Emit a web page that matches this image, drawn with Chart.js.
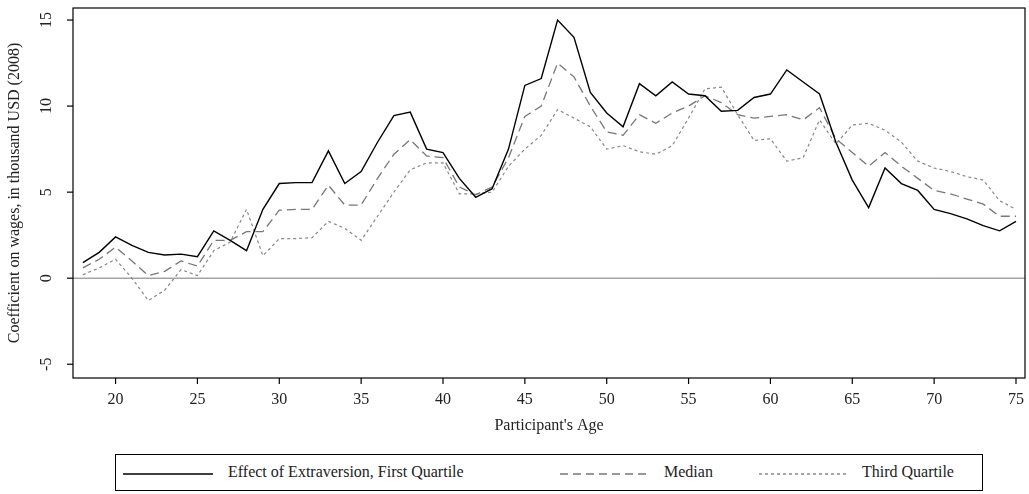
<!DOCTYPE html>
<html>
<head>
<meta charset="utf-8">
<script src="https://cdn.jsdelivr.net/npm/chart.js@4"></script>
<style>
  body { margin: 0; background: #fff; font-family: "Liberation Serif", serif; }
  #wrap { position: relative; width: 1029px; height: 452px; }
  #legend { position: absolute; left: 115px; top: 454px; width: 868px; height: 37px; border: 1px solid #000; box-sizing: border-box; font-size: 16px; color: #222; }
  #legend svg { position: absolute; top: 17px; }
  #legend span { position: absolute; top: 8px; }
</style>
</head>
<body>
<div id="wrap"><canvas id="grafico" width="1029" height="452"></canvas></div>
<div id="legend">
  <svg style="left:7px" width="90" height="4"><line x1="0" y1="2" x2="90" y2="2" stroke="#000" stroke-width="1.3"/></svg>
  <span style="left:112px">Effect of Extraversion, First Quartile</span>
  <svg style="left:444px" width="90" height="4"><line x1="0" y1="2" x2="90" y2="2" stroke="#777" stroke-width="1.3" stroke-dasharray="8,5"/></svg>
  <span style="left:548px">Median</span>
  <svg style="left:643px" width="90" height="4"><line x1="0" y1="2" x2="90" y2="2" stroke="#888" stroke-width="1.3" stroke-dasharray="3,3"/></svg>
  <span style="left:746px">Third Quartile</span>
</div>
<script>
const idades = [];
for (let a = 18; a <= 75; a++) idades.push(a);

const primeiroQuartil = [0.9,1.5,2.4,1.9,1.5,1.35,1.4,1.25,2.75,2.2,1.6,4.0,5.5,5.55,5.55,7.4,5.5,6.2,7.9,9.45,9.65,7.5,7.3,5.8,4.7,5.2,7.5,11.2,11.6,15.0,14.0,10.8,9.6,8.8,11.3,10.6,11.4,10.7,10.6,9.7,9.75,10.5,10.7,12.1,11.4,10.7,7.9,5.7,4.1,6.4,5.5,5.1,4.0,3.75,3.45,3.05,2.75,3.3];
const mediana = [0.6,1.1,1.8,1.0,0.15,0.4,1.0,0.7,2.2,2.2,2.7,2.7,3.95,4.0,4.0,5.4,4.25,4.25,5.8,7.2,8.05,7.1,7.0,5.3,4.85,5.3,7.0,9.4,10.0,12.5,11.7,10.0,8.5,8.3,9.5,9.0,9.6,10.0,10.6,10.2,9.5,9.3,9.4,9.5,9.2,9.9,8.1,7.3,6.5,7.3,6.5,5.8,5.1,4.9,4.6,4.3,3.6,3.6];
const terceiroQuartil = [0.2,0.6,1.1,0.0,-1.3,-0.7,0.5,0.15,1.6,2.1,4.0,1.3,2.3,2.3,2.35,3.3,2.9,2.2,3.6,5.0,6.3,6.7,6.7,4.9,4.9,5.0,6.5,7.5,8.3,9.8,9.3,8.8,7.5,7.7,7.35,7.2,7.7,9.3,11.0,11.1,9.5,8.0,8.1,6.8,7.0,9.2,7.8,8.9,9.0,8.6,7.9,6.8,6.4,6.2,5.9,5.7,4.5,4.0];
const ticksX = [20,25,30,35,40,45,50,55,60,65,70,75];
const ticksY = [-5,0,5,10,15];

const fonte = '16px "Liberation Serif", serif';

// desenha moldura, linha do zero, ticks e rótulos
const eixos = {
  id: 'eixos',
  beforeDatasetsDraw(chart) {
    const { ctx, chartArea: a, scales: { y } } = chart;
    ctx.save();
    ctx.strokeStyle = '#777';
    ctx.lineWidth = 1;
    ctx.beginPath();
    ctx.moveTo(a.left, y.getPixelForValue(0));
    ctx.lineTo(a.right, y.getPixelForValue(0));
    ctx.stroke();
    ctx.restore();
  },
  afterDraw(chart) {
    const { ctx, chartArea: a, scales: { x, y } } = chart;
    ctx.save();
    ctx.strokeStyle = '#000';
    ctx.lineWidth = 1.2;
    ctx.strokeRect(a.left, a.top, a.right - a.left, a.bottom - a.top);
    ctx.fillStyle = '#222';
    ctx.font = fonte;
    ctx.textAlign = 'center';
    ctx.textBaseline = 'top';
    ticksX.forEach(t => {
      const px = x.getPixelForValue(t);
      ctx.beginPath(); ctx.moveTo(px, a.bottom); ctx.lineTo(px, a.bottom + 6); ctx.stroke();
      ctx.fillText(String(t), px, a.bottom + 14);
    });
    ctx.fillText("Participant's Age", (a.left + a.right) / 2, a.bottom + 40);
    ticksY.forEach(t => {
      const py = y.getPixelForValue(t);
      ctx.beginPath(); ctx.moveTo(a.left, py); ctx.lineTo(a.left - 6, py); ctx.stroke();
      ctx.save();
      ctx.translate(a.left - 26, py);
      ctx.rotate(-Math.PI / 2);
      ctx.textBaseline = 'middle';
      ctx.fillText(String(t), 0, 0);
      ctx.restore();
    });
    ctx.save();
    ctx.translate(15, (a.top + a.bottom) / 2);
    ctx.rotate(-Math.PI / 2);
    ctx.textBaseline = 'middle';
    ctx.fillText('Coefficient on wages, in thousand USD (2008)', 0, 0);
    ctx.restore();
    ctx.restore();
  }
};

function serie(label, dados, cor, tracejado, largura) {
  return { label, data: idades.map((a, i) => ({ x: a, y: dados[i] })), borderColor: cor, borderWidth: largura, borderDash: tracejado, pointRadius: 0, tension: 0, fill: false };
}

new Chart(document.getElementById('grafico').getContext('2d'), {
  type: 'line',
  data: {
    datasets: [
      serie('Effect of Extraversion, First Quartile', primeiroQuartil, '#000', [], 1.4),
      serie('Median', mediana, '#777', [9, 5], 1.3),
      serie('Third Quartile', terceiroQuartil, '#888', [3, 3], 1.2)
    ]
  },
  options: {
    responsive: false,
    animation: false,
    layout: { padding: { top: 8, right: 4, left: 0, bottom: 0 } },
    plugins: { legend: { display: false }, tooltip: { enabled: false } },
    scales: {
      x: { type: 'linear', min: 17.4, max: 75.55, grid: { display: false }, border: { display: false }, ticks: { display: false }, afterFit(s) { s.height = 74; } },
      y: { min: -5.8, max: 15.7, grid: { display: false }, border: { display: false }, ticks: { display: false }, afterFit(s) { s.width = 73; } }
    }
  },
  plugins: [eixos]
});
</script>
</body>
</html>
